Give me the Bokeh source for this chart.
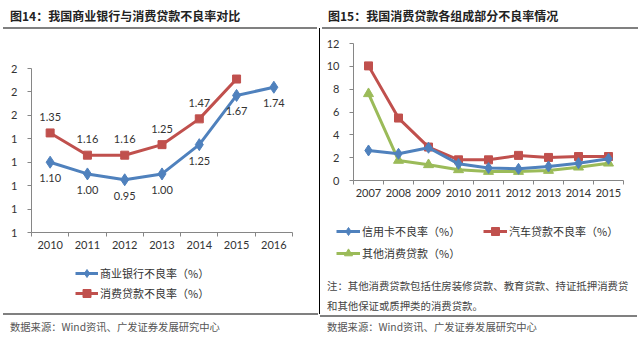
from bokeh.plotting import figure
from bokeh.models import (FixedTicker, Legend, LegendItem, ColumnDataSource, Range1d, Div)
from bokeh.layouts import row, column
from bokeh.embed import file_html
from bokeh.resources import INLINE
from bokeh.core.properties import value

# ---------------- data ----------------
# Figure 14
years_left = [2010, 2011, 2012, 2013, 2014, 2015, 2016]
bank_npl = [1.10, 1.00, 0.95, 1.00, 1.25, 1.67, 1.74]
consumer_years = [2010, 2011, 2012, 2013, 2014, 2015]
consumer_npl = [1.35, 1.16, 1.16, 1.25, 1.47, 1.81]
left_yticks = [0.5, 0.7, 0.9, 1.1, 1.3, 1.5, 1.7, 1.9]
left_ytick_labels = ["1", "1", "1", "1", "1", "2", "2", "2"]

# Figure 15
years_right = [2007, 2008, 2009, 2010, 2011, 2012, 2013, 2014, 2015]
credit_card = [2.63, 2.34, 2.87, 1.46, 1.10, 1.02, 1.23, 1.52, 1.90]
auto_loan = [10.04, 5.47, 2.93, 1.81, 1.81, 2.20, 2.02, 2.10, 2.10]
other_consumer = [7.60, 1.76, 1.38, 0.94, 0.79, 0.79, 0.88, 1.17, 1.52]
right_yticks = [0, 2, 4, 6, 8, 10, 12]

title_left = "图14：我国商业银行与消费贷款不良率对比"
title_right = "图15：我国消费贷款各组成部分不良率情况"
legend_left = ["商业银行不良率（%）", "消费贷款不良率（%）"]
legend_right = ["信用卡不良率（%）", "汽车贷款不良率（%）", "其他消费贷款（%）"]
note_lines = ["注：其他消费贷款包括住房装修贷款、教育贷款、持证抵押消费贷",
              "和其他保证或质押类的消费贷款。"]
source_text = "数据来源：Wind资讯、广发证券发展研究中心"

BLUE = "#4F81BD"
RED = "#C0504D"
GREEN = "#9BBB59"
AXIS = "#868686"
TXT = "#333333"
CJK = "Noto Sans CJK SC"
NUM = "Lato"

SERIES_STYLE = {
    "bank": dict(color=BLUE, marker="diamond", size=12),
    "cons": dict(color=RED, marker="square", size=8),
    "cc": dict(color=BLUE, marker="diamond", size=11),
    "auto": dict(color=RED, marker="square", size=8),
    "oth": dict(color=GREEN, marker="triangle", size=10),
}


def base_fig(width, height, **kw):
    p = figure(width=width, height=height, output_backend="svg", toolbar_location=None, **kw)
    p.outline_line_color = None
    p.background_fill_color = "white"
    p.border_fill_color = "white"
    p.frame_align = False
    p.grid.visible = False
    return p


def style_axes(p):
    for ax in (p.xaxis[0], p.yaxis[0]):
        ax.axis_line_color = AXIS
        ax.major_tick_line_color = AXIS
        ax.minor_tick_line_color = AXIS
        ax.major_tick_in = 0
        ax.major_tick_out = 4
        ax.minor_tick_in = 0
        ax.minor_tick_out = 4
        ax.major_label_text_font = NUM
        ax.major_label_text_font_size = "11px"
        ax.major_label_text_color = TXT
    p.xaxis[0].major_tick_line_color = None
    p.xaxis[0].major_label_standoff = 4
    p.yaxis[0].minor_tick_line_color = None
    p.yaxis[0].major_label_standoff = 10


def series(p, src, key, shrink=0):
    st = SERIES_STYLE[key]
    ln = p.line("x", "y", source=src, line_color=st["color"], line_width=3, line_join="round")
    mk = p.scatter("x", "y", source=src, marker=st["marker"], size=st["size"] - shrink,
                   fill_color=st["color"], line_color=st["color"])
    return [ln, mk]


def make_legend(items, loc, orientation="vertical", label_width=20, glyph_width=24):
    return Legend(items=items, location=loc, orientation=orientation,
                  glyph_width=glyph_width, glyph_height=20, label_height=20, label_standoff=2,
                  label_width=label_width, spacing=2 if orientation == "horizontal" else 0,
                  padding=0, margin=0, border_line_color=None, background_fill_alpha=0,
                  label_text_font=CJK, label_text_font_size="11px", label_text_color=TXT)


def text_div(lines, width, height, size, pad_top, pad_left, bold=False, color="#222222"):
    weight = "bold" if bold else "normal"
    html = "<br>".join(lines)
    return Div(text=(f'<div style="padding:{pad_top}px 0 0 {pad_left}px; font-family:\'{CJK}\';'
                     f' font-size:{size}px; line-height:20px; font-weight:{weight};'
                     f' color:{color}; white-space:nowrap;">{html}</div>'),
               width=width, height=height, margin=0)


def rule_div(width, height, left, color, top=0):
    return Div(text="", width=width, height=height, margin=(top, 0, 0, left),
               styles={"background-color": color})


# sources
src_bank = ColumnDataSource(dict(x=years_left, y=bank_npl, t=[f"{v:.2f}" for v in bank_npl]))
src_cons = ColumnDataSource(dict(x=consumer_years, y=consumer_npl, t=[f"{v:.2f}" for v in consumer_npl]))
src_cc = ColumnDataSource(dict(x=years_right, y=credit_card))
src_auto = ColumnDataSource(dict(x=years_right, y=auto_loan))
src_oth = ColumnDataSource(dict(x=years_right, y=other_consumer))

# ---------------- left chart ----------------
p1 = base_fig(319, 229, x_range=Range1d(2009.5, 2016.5), y_range=Range1d(0.5, 1.9),
              min_border_left=31, min_border_right=27, min_border_top=39, min_border_bottom=26)
style_axes(p1)
p1.xaxis[0].ticker = FixedTicker(ticks=years_left,
                                 minor_ticks=[y - 0.5 for y in years_left] + [years_left[-1] + 0.5])
p1.yaxis[0].ticker = FixedTicker(ticks=left_yticks)
p1.yaxis[0].major_label_overrides = dict(zip(left_yticks, left_ytick_labels))

series(p1, src_bank, "bank")
series(p1, src_cons, "cons")
p1.text("x", "y", text="t", source=src_bank, y_offset=16, text_align="center",
        text_baseline="middle", text_font=value(NUM), text_font_size="11px", text_color=TXT)
p1.text("x", "y", text="t", source=src_cons, y_offset=-16, text_align="center",
        text_baseline="middle", text_font=value(NUM), text_font_size="11px", text_color=TXT)

# legend strip: the same series, in a view whose ranges keep them off-screen
lg1 = base_fig(319, 55, x_range=Range1d(0, 1), y_range=Range1d(0, 1),
               x_axis_location=None, y_axis_location=None, min_border=0)
lg1.add_layout(make_legend([LegendItem(label=legend_left[0], renderers=series(lg1, src_bank, "bank", 3)),
                            LegendItem(label=legend_left[1], renderers=series(lg1, src_cons, "cons", 1))],
                           (75, 10), glyph_width=23))

left_col = column(
    text_div([title_left], 319, 27, 12, 6, 10, bold=True),
    rule_div(314, 2, 3, "#808080"),
    p1,
    lg1,
    rule_div(315, 2, 3, "#808080"),
    text_div([source_text], 319, 24, 10.3, 2, 10, color="#555555"),
    spacing=0)

vline = rule_div(1, 286, 0, "#000000", top=28)

# ---------------- right chart ----------------
p2 = base_fig(320, 177, x_range=Range1d(2006.5, 2015.5), y_range=Range1d(0, 12),
              min_border_left=33, min_border_right=17, min_border_top=14, min_border_bottom=26)
style_axes(p2)
p2.xaxis[0].ticker = FixedTicker(ticks=years_right,
                                 minor_ticks=[y - 0.5 for y in years_right] + [years_right[-1] + 0.5])
p2.yaxis[0].ticker = FixedTicker(ticks=right_yticks)

series(p2, src_oth, "oth")
series(p2, src_auto, "auto")
series(p2, src_cc, "cc")

lg2 = base_fig(320, 70, x_range=Range1d(0, 1), y_range=Range1d(0, 1),
               x_axis_location=None, y_axis_location=None, min_border=0)
lg2.add_layout(make_legend([LegendItem(label=legend_right[0], renderers=series(lg2, src_cc, "cc", 3)),
                            LegendItem(label=legend_right[1], renderers=series(lg2, src_auto, "auto", 1))],
                           (16, 35), orientation="horizontal", label_width=119))
lg2.add_layout(make_legend([LegendItem(label=legend_right[2], renderers=series(lg2, src_oth, "oth", 2))],
                           (16, 13)))

right_col = column(
    text_div([title_right], 320, 27, 12, 6, 8, bold=True),
    rule_div(316, 2, 2, "#808080"),
    p2,
    lg2,
    text_div(note_lines, 320, 39, 10.4, 0, 7, color="#444444"),
    rule_div(317, 2, 0, "#808080"),
    text_div([source_text], 320, 22, 10.3, 0, 7, color="#555555"),
    spacing=0)

layout = row(left_col, vline, right_col, spacing=0)
open("out.html", "w").write(file_html(layout, INLINE))
